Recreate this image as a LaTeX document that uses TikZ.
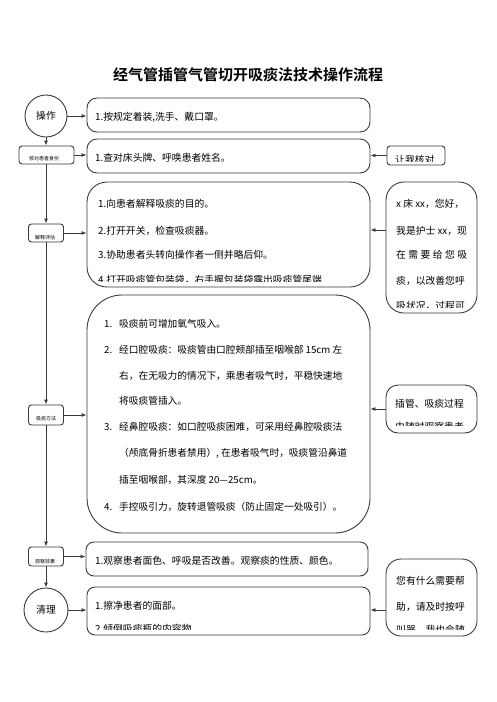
\documentclass[tikz,border=0pt]{standalone}
\usepackage{fontspec}
\setmainfont{Noto Sans CJK SC}[BoldFont={Noto Sans CJK SC Bold}]
\usetikzlibrary{arrows.meta}
\definecolor{lc}{HTML}{3A3A3A}
\tikzset{
  box/.style={draw=lc, line width=0.9pt, inner sep=0pt},
  txt/.style={inner sep=0pt, anchor=base west, font=\fontsize{9.8}{11}\selectfont},
  ltxt/.style={inner sep=0pt, anchor=base west, font=\fontsize{9.7}{11}\selectfont},
  tinytxt/.style={inner sep=0pt, font=\fontsize{5}{6}\selectfont},
  arr/.style={draw=lc, line width=0.9pt, -{Latex[length=5pt,width=4pt]}},
}
\begin{document}
\begin{tikzpicture}[x=1pt,y=-1pt]
\useasboundingbox[fill=white] (0,0) rectangle (496,702);

% title
\node[inner sep=0pt, font=\fontsize{15}{18}\selectfont\bfseries] (title) at (248,75) {经气管插管气管切开吸痰法技术操作流程};

% left column
\node[box, circle, minimum size=42pt, font=\fontsize{9.8}{11}\selectfont] (c1) at (46,116) {操作};
\node[box, rounded corners=3pt, minimum width=55pt, minimum height=18pt] (s2) at (46.5,155) {};
\node[box, rounded corners=3pt, minimum width=35pt, minimum height=18pt] (s3) at (46,233) {};
\node[box, rounded corners=3pt, minimum width=35pt, minimum height=20pt] (s4) at (46,415) {};
\node[box, rounded corners=3pt, minimum width=35pt, minimum height=19pt] (s5) at (46,556.5) {};
\node[box, circle, minimum size=44pt, font=\fontsize{9.8}{11}\selectfont] (c6) at (46,610) {清理};

\node[tinytxt] (s2t) at (44,159) {核对患者身份};
\node[tinytxt] (s3t) at (45,238) {解释评估};
\node[tinytxt] (s4t) at (46,419) {吸痰方法};
\node[tinytxt] (s5t) at (45,562) {观察效果};

% main boxes
\node[box, rounded corners=10pt, minimum width=283pt, minimum height=34pt] (b1) at (228.5,115) {};
\node[box, rounded corners=10pt, minimum width=283pt, minimum height=34pt] (b2) at (228.5,156) {};
\node[box, rounded corners=20pt, minimum width=283pt, minimum height=105pt] (b3) at (228.5,234.5) {};
\node[box, rounded corners=35pt, minimum width=283pt, minimum height=238pt] (b4) at (228.5,414) {};
\node[box, rounded corners=8pt, minimum width=282pt, minimum height=34pt] (b5) at (227,559) {};
\node[box, rounded corners=8pt, minimum width=283pt, minimum height=48pt] (b6) at (228.5,611) {};

% right boxes
\node[box, rounded corners=3pt, minimum width=58pt, minimum height=19pt] (r2) at (416,155.5) {};
\node[box, rounded corners=18pt, minimum width=91pt, minimum height=131pt] (r3) at (431.5,247.5) {};
\node[box, rounded corners=12pt, minimum width=91pt, minimum height=48pt] (r4) at (431.5,409) {};
\node[box, rounded corners=15pt, minimum width=91pt, minimum height=77pt] (r6) at (431.5,597.5) {};

% texts
\node[txt] (b1t) at (95,120) {1.按规定着装,洗手、戴口罩。};
\node[txt] (b2t) at (95,161) {1.查对床头牌、呼唤患者姓名。};

\begin{scope}
  \clip (388,147) rectangle (444,161);
  \node[txt] (r2t) at (395,163.5) {让我核对};
\end{scope}

\begin{scope}
  \clip (90,184) rectangle (368,281);
  \node[txt] (b3t1) at (98,207) {1.向患者解释吸痰的目的。};
  \node[txt] (b3t2) at (98,234) {2.打开开关，检查吸痰器。};
  \node[txt] (b3t3) at (98,258) {3.协助患者头转向操作者一侧并略后仰。};
  \node[txt] (b3t4) at (98,283.5) {4.打开吸痰管包装袋，右手握包装袋露出吸痰管尾端};
\end{scope}

\begin{scope}
  \clip (388,184) rectangle (475,307);
  \node[txt] (r3t1) at (396,207) {x 床 xx，您好，};
  \node[txt] (r3t2) at (396,234) {我是护士 xx，现};
  \node[txt] (r3t3) at (396,258) {\makebox[71pt][s]{在\hfill 需\hfill 要\hfill 给\hfill 您\hfill 吸}};
  \node[txt] (r3t4) at (396,284) {痰，以改善您呼};
  \node[txt] (r3t5) at (396,309.6) {吸状况，过程可};
\end{scope}

\node[ltxt] (n1) at (104,327.8) {1.};
\node[ltxt] (l1) at (119,327.8) {吸痰前可增加氧气吸入。};
\node[ltxt] (n2) at (104,353.8) {2.};
\node[ltxt] (l2) at (119,353.8) {经口腔吸痰：吸痰管由口腔颊部插至咽喉部 15cm 左};
\node[ltxt] (l3) at (119,379.8) {右，在无吸力的情况下，乘患者吸气时，平稳快速地};
\node[ltxt] (l4) at (119,404.8) {将吸痰管插入。};
\node[ltxt] (n3) at (104,430.8) {3.};
\node[ltxt] (l5) at (119,430.8) {经鼻腔吸痰：如口腔吸痰困难，可采用经鼻腔吸痰法};
\node[ltxt] (l6) at (119,456.8) {（颅底骨折患者禁用）, 在患者吸气时，吸痰管沿鼻道};
\node[ltxt] (l7) at (119,483.8) {插至咽喉部，其深度 20—25cm。};
\node[ltxt] (n4) at (104,510.8) {4.};
\node[ltxt] (l8) at (119,510.8) {手控吸引力，旋转退管吸痰（防止固定一处吸引）。};

\begin{scope}
  \clip (388,387) rectangle (475,425);
  \node[txt] (r4t1) at (395,407) {插管、吸痰过程};
  \node[txt] (r4t2) at (395,430) {中随时观察患者};
\end{scope}

\node[txt] (b5t) at (95,564) {1.观察患者面色、呼吸是否改善。观察痰的性质、颜色。};

\begin{scope}
  \clip (90,589) rectangle (368,629);
  \node[txt] (b6t1) at (95,609.6) {1.擦净患者的面部。};
  \node[txt] (b6t2) at (95,632.6) {2.倾倒吸痰瓶的内容物};
\end{scope}

\begin{scope}
  \clip (388,561) rectangle (475,629);
  \node[txt] (r6t1) at (396,584) {您有什么需要帮};
  \node[txt] (r6t2) at (396,610) {助，请及时按呼};
  \node[txt] (r6t3) at (396,633.6) {叫器，我也会随};
\end{scope}

% vertical connectors
\draw[arr] (c1.south) -- (c1.south |- s2.north);
\draw[arr] (s3.north |- s2.south) -- (s3.north);
\draw[arr] (s3.south) -- (s4.north);
\draw[arr] (s4.south) -- (s5.north);
\draw[arr] (s5.south) -- (c6.north);

% horizontal connectors
\draw[arr] (c1.east) -- (c1.east -| b1.west);
\draw[arr] (s2.east) -- (s2.east -| b2.west);
\draw[arr] (r2.west) -- (r2.west -| b2.east);
\draw[arr] (s3.east) -- (s3.east -| b3.west);
\draw[arr] ([yshift=17.5pt]r3.west) -- ([yshift=17.5pt]r3.west -| b3.east);
\draw[arr] (s4.east) -- (s4.east -| b4.west);
\draw[arr] (r4.west) -- (r4.west -| b4.east);
\draw[arr] (s5.east) -- (s5.east -| b5.west);
\draw[arr] (c6.east) -- (c6.east -| b6.west);
\draw[arr] ([yshift=-12.5pt]r6.west) -- ([yshift=-12.5pt]r6.west -| b6.east);
\end{tikzpicture}
\end{document}
